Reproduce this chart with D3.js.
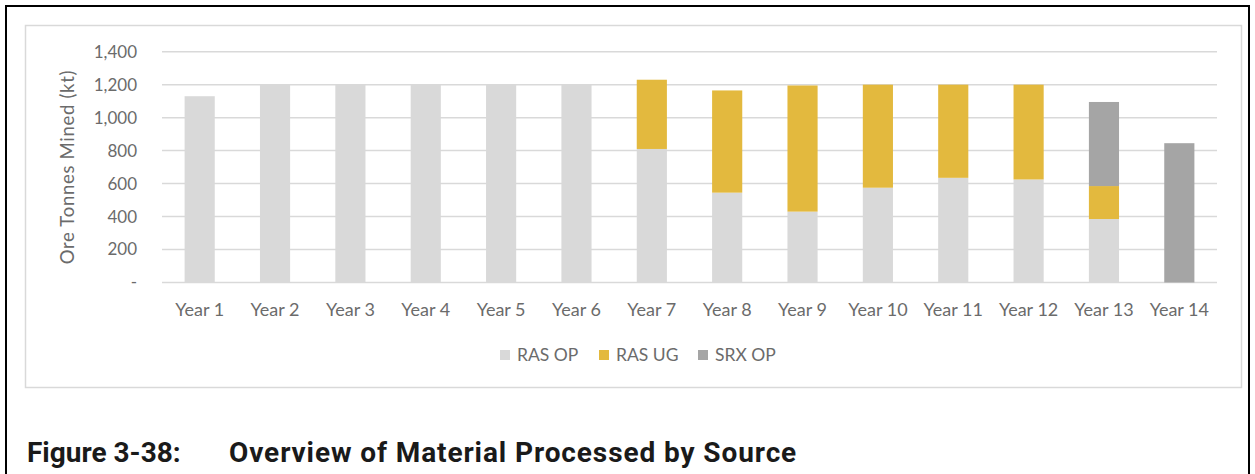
<!DOCTYPE html>
<html>
<head>
<meta charset="utf-8">
<script src="https://cdn.jsdelivr.net/npm/d3@7"></script>
<style>
  body { margin: 0; background: #fff; }
</style>
</head>
<body>
<script>
// data (kt)
var years = ["Year 1", "Year 2", "Year 3", "Year 4", "Year 5", "Year 6", "Year 7",
  "Year 8", "Year 9", "Year 10", "Year 11", "Year 12", "Year 13", "Year 14"];
var rasOP = [1130, 1200, 1200, 1200, 1200, 1200, 810, 545, 430, 575, 635, 625, 385, 0];
var rasUG = [0, 0, 0, 0, 0, 0, 420, 620, 765, 625, 565, 575, 200, 0];
var srxOP = [0, 0, 0, 0, 0, 0, 0, 0, 0, 0, 0, 0, 510, 845];
var seriesNames = ["RAS OP", "RAS UG", "SRX OP"];
var yTicks = [0, 200, 400, 600, 800, 1000, 1200, 1400];

var colors = { "RAS OP": "#d9d9d9", "RAS UG": "#e3b93e", "SRX OP": "#a5a5a5" };
var font = "Lato, 'Open Sans', sans-serif";
var textColor = "#6b6b6b";

var rows = years.map(function(y, i) {
  return { year: y, "RAS OP": rasOP[i], "RAS UG": rasUG[i], "SRX OP": srxOP[i] };
});

var svg = d3.select("body").append("svg")
  .attr("width", 1255)
  .attr("height", 474);

// outer frame
svg.append("path")
  .attr("d", "M6,480 V6 H1249 V480")
  .attr("fill", "none")
  .attr("stroke", "#000")
  .attr("stroke-width", 2);

// chart box
svg.append("rect")
  .attr("x", 25.5).attr("y", 25.5)
  .attr("width", 1216).attr("height", 362)
  .attr("fill", "#fff")
  .attr("stroke", "#d9d9d9")
  .attr("stroke-width", 1.5);

var plotLeft = 162, plotRight = 1217, plotTop = 51.7, plotBottom = 282.5;

var x = d3.scaleBand().domain(years).range([plotLeft, plotRight]).paddingInner(0.6).paddingOuter(0.3);
var y = d3.scaleLinear().domain([0, 1400]).range([plotBottom, plotTop]);

// gridlines
svg.append("g").selectAll("line")
  .data(yTicks)
  .join("line")
  .attr("x1", plotLeft).attr("x2", plotRight)
  .attr("y1", d => y(d)).attr("y2", d => y(d))
  .attr("stroke", "#d9d9d9")
  .attr("stroke-width", 1.5);

// y tick labels
svg.append("g").selectAll("text")
  .data(yTicks)
  .join("text")
  .attr("x", 137)
  .attr("y", d => y(d))
  .attr("dy", "0.35em")
  .attr("text-anchor", "end")
  .attr("font-family", font)
  .attr("font-size", 17)
  .attr("fill", textColor)
  .text(d => d === 0 ? "-" : d3.format(",")(d));

// y axis title
svg.append("text")
  .attr("transform", "translate(74," + ((plotTop + plotBottom) / 2) + ") rotate(-90)")
  .attr("text-anchor", "middle")
  .attr("font-family", font)
  .attr("font-size", 18.5)
  .attr("letter-spacing", 0.7)
  .attr("fill", textColor)
  .text("Ore Tonnes Mined (kt)");

// stacked bars
var stack = d3.stack().keys(seriesNames);
var layers = stack(rows);

svg.append("g").selectAll("g")
  .data(layers)
  .join("g")
  .attr("fill", d => colors[d.key])
  .selectAll("rect")
  .data(d => d)
  .join("rect")
  .attr("x", d => x(d.data.year))
  .attr("width", x.bandwidth())
  .attr("y", d => y(d[1]))
  .attr("height", d => y(d[0]) - y(d[1]));

// category labels
svg.append("g").selectAll("text")
  .data(years)
  .join("text")
  .attr("x", d => x(d) + x.bandwidth() / 2)
  .attr("y", 316)
  .attr("text-anchor", "middle")
  .attr("font-family", font)
  .attr("font-size", 18)
  .attr("fill", textColor)
  .text(d => d);

// legend
var legendX = [500, 599, 698];
var legend = svg.append("g").selectAll("g")
  .data(seriesNames)
  .join("g")
  .attr("transform", (d, i) => "translate(" + legendX[i] + ",350)");
legend.append("rect")
  .attr("width", 10).attr("height", 10)
  .attr("fill", d => colors[d]);
legend.append("text")
  .attr("x", 17).attr("y", 5)
  .attr("dy", "0.35em")
  .attr("font-family", font)
  .attr("font-size", 17.5)
  .attr("fill", textColor)
  .text(d => d);

// figure caption
svg.append("text")
  .attr("x", 27).attr("y", 462)
  .attr("font-family", "Roboto, sans-serif")
  .attr("font-weight", 700)
  .attr("font-size", 28)
  .attr("fill", "#1a1a1a")
  .text("Figure 3-38:");
svg.append("text")
  .attr("x", 229).attr("y", 462)
  .attr("font-family", "Roboto, sans-serif")
  .attr("font-weight", 700)
  .attr("font-size", 28)
  .attr("letter-spacing", 0.9)
  .attr("fill", "#1a1a1a")
  .text("Overview of Material Processed by Source");
</script>
</body>
</html>
